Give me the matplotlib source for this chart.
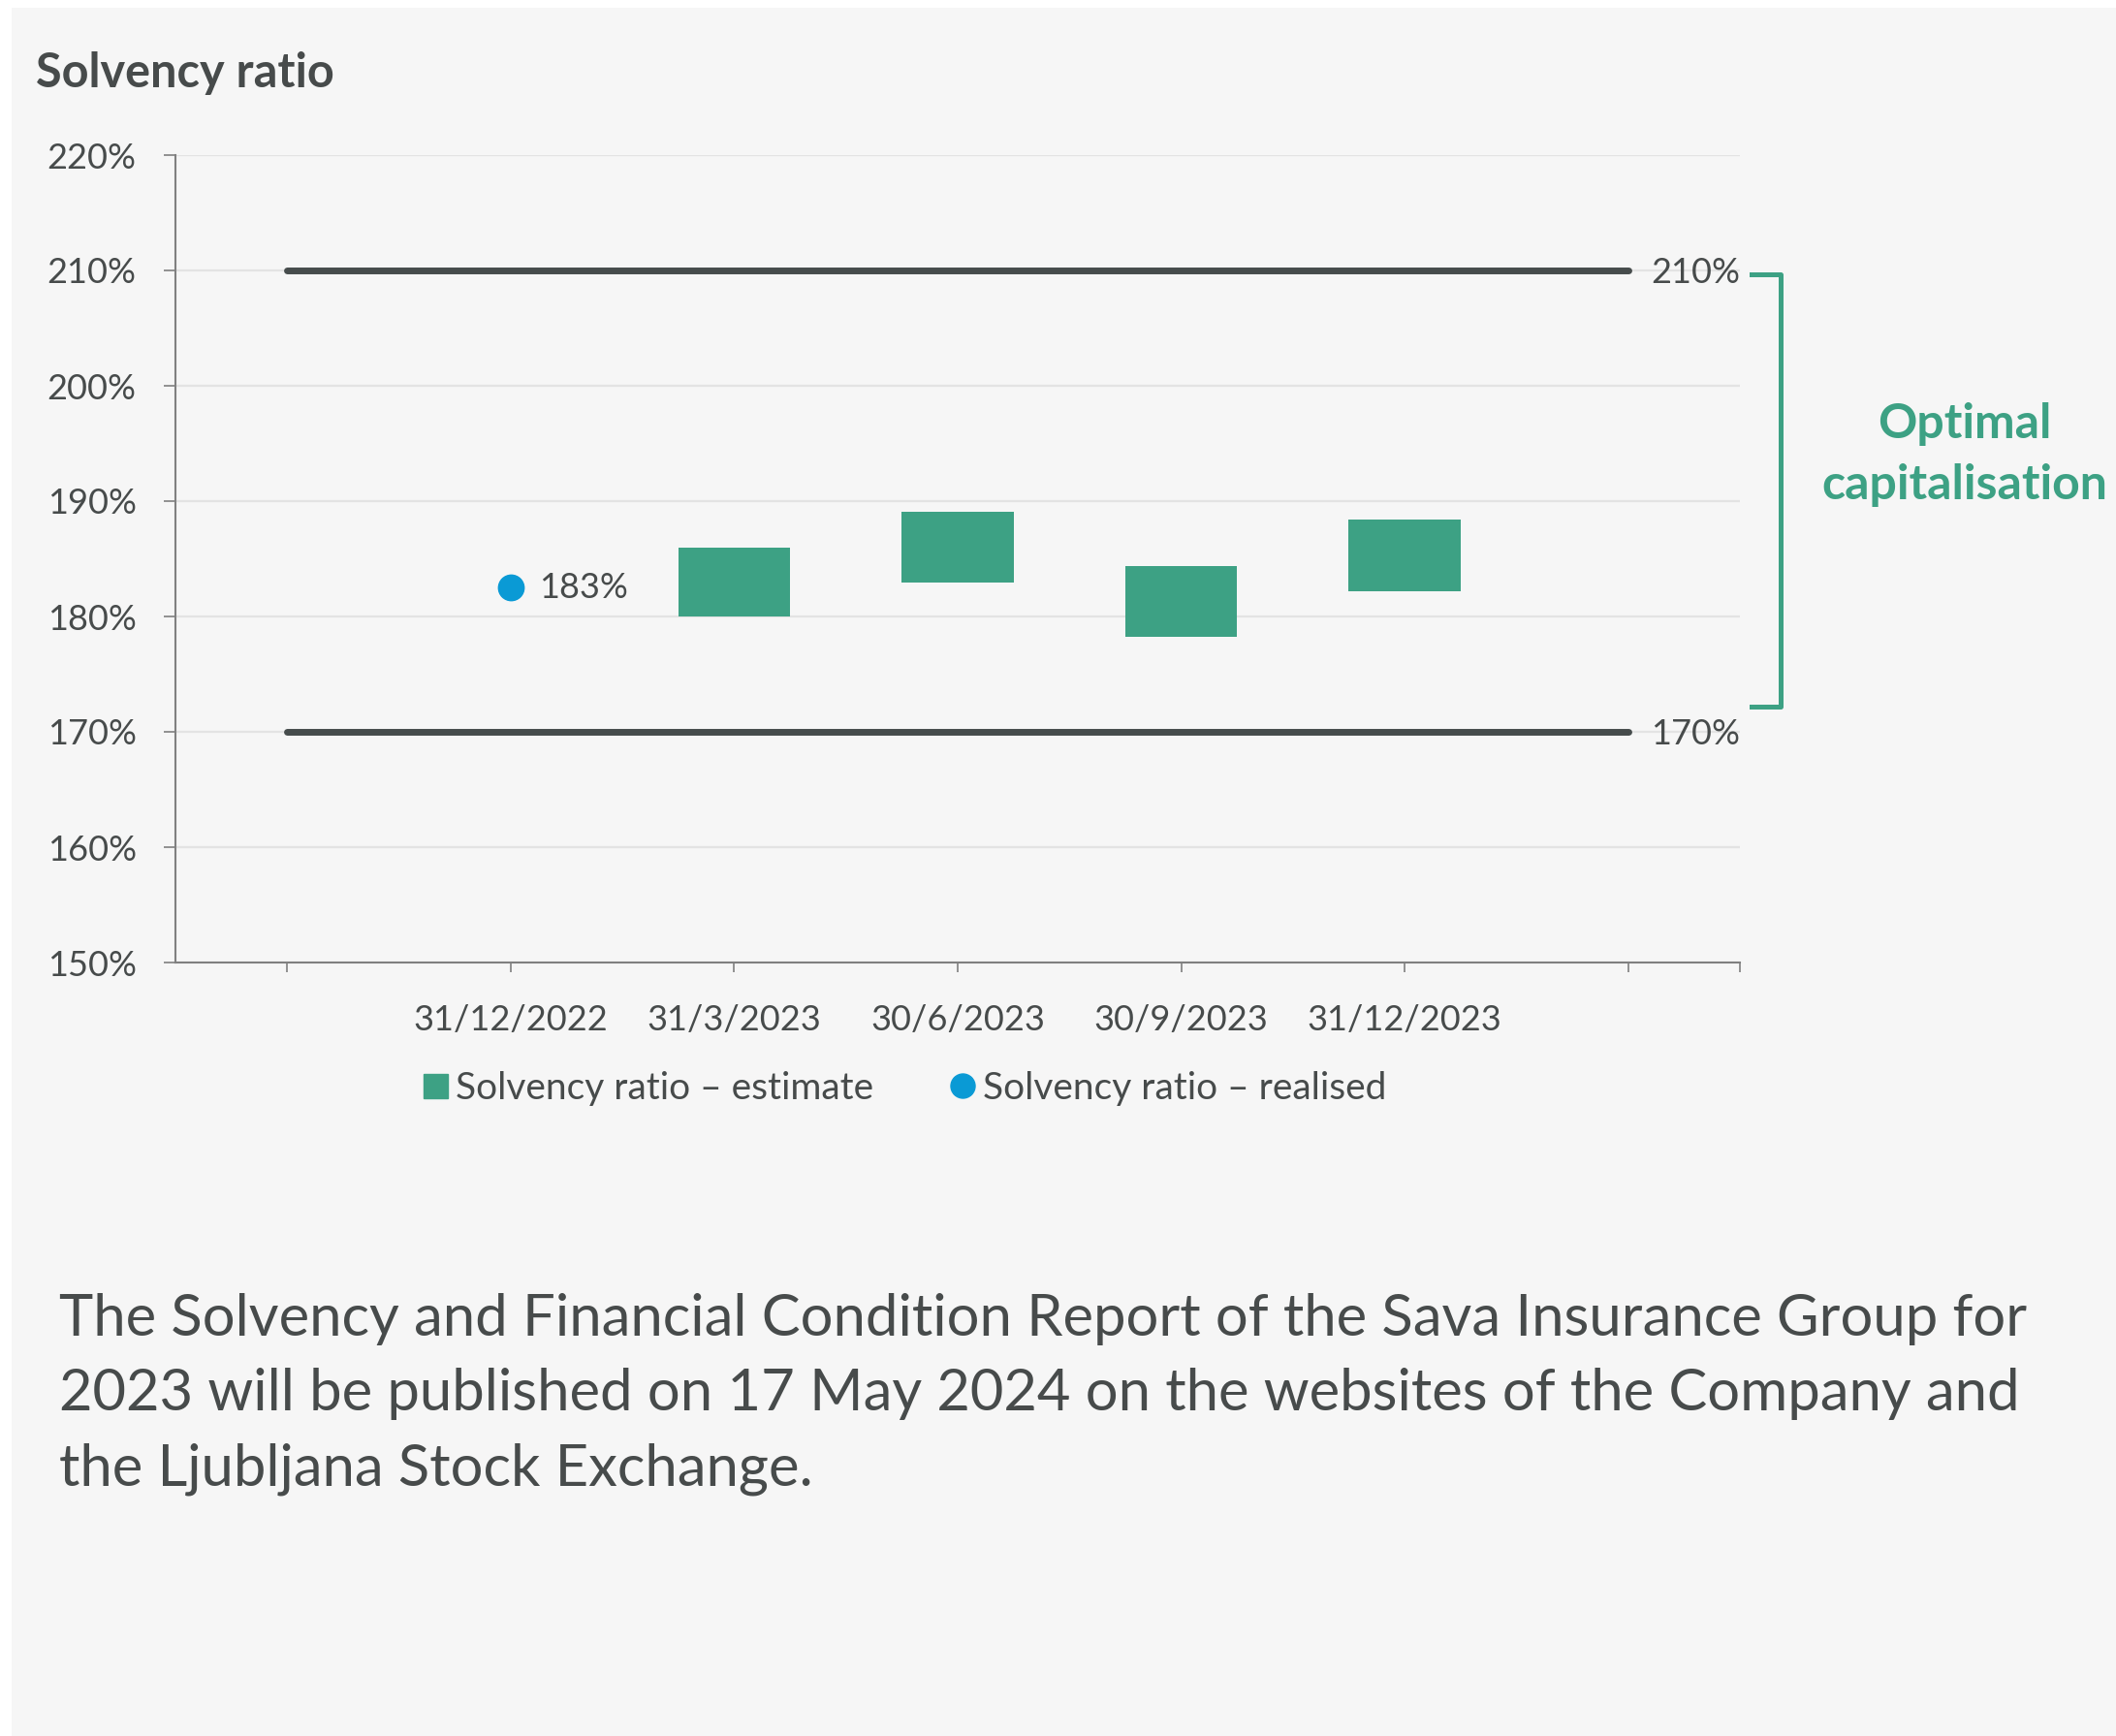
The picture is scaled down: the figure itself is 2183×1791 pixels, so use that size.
import numpy as np
import matplotlib
matplotlib.use("Agg")
from matplotlib import pyplot as plt
from matplotlib.lines import Line2D

plt.rcParams['font.family'] = ['Lato', 'DejaVu Sans']

# chart data
categories = ["", "31/12/2022", "31/3/2023", "30/6/2023", "30/9/2023", "31/12/2023", ""]
estimate_pos = [2, 3, 4, 5]
estimate_low = [180.0, 182.9, 178.2, 182.2]
estimate_high = [186.0, 189.1, 184.4, 188.4]
realised_pos = [1]
realised_val = [182.5]
realised_lbl = ["183%"]
bounds = [170, 210]
bound_lbls = ["170%", "210%"]
yticks = [150, 160, 170, 180, 190, 200, 210, 220]

GREEN = "#3DA184"
BLUE = "#0A9AD5"
DARK = "#464C4C"
TXT = "#474B4B"
GRAY = "#808080"
BG = "#F6F6F6"

W, H = 2183, 1791
fig = plt.figure(figsize=(W / 100, H / 100), dpi=100, facecolor="white")
# light panel behind everything
fig.patches.append(plt.Rectangle((12 / W, 0), 1, 1 - 8 / H, transform=fig.transFigure,
                                 facecolor=BG, edgecolor="none", zorder=-10))

ax = fig.add_axes([181 / W, 1 - 993 / H, (1795 - 181) / W, (993 - 160) / H])
ax.set_facecolor(BG)
ax.set_xlim(-0.5, 6.5)
ax.set_ylim(150, 220)

for s in ["top", "right"]:
    ax.spines[s].set_visible(False)
for s in ["left", "bottom"]:
    ax.spines[s].set_color(GRAY)
    ax.spines[s].set_linewidth(1.5)

ax.set_yticks(yticks)
ax.set_yticklabels([f"{v}%" for v in yticks])
ax.yaxis.grid(True, color="#E3E3E3", linewidth=1.6)
ax.set_axisbelow(True)
ax.tick_params(axis="y", length=9, width=1.2, color=GRAY, labelsize=26, labelcolor=TXT, pad=20)

ax.set_xticks(list(range(len(categories))) + [6.5])
ax.set_xticklabels(categories + [""])
ax.tick_params(axis="x", length=7, width=1.2, color=GRAY, labelsize=26, labelcolor=TXT, pad=24)

# bounds of optimal capitalisation
for b, lbl in zip(bounds, bound_lbls):
    ax.plot([0, 6], [b, b], color=DARK, lw=5, solid_capstyle="round", zorder=3)
    ax.text(6.1, b - 0.2, lbl, fontsize=26, color=TXT, va="center", ha="left")

# estimates
heights = np.array(estimate_high) - np.array(estimate_low)
ax.bar(estimate_pos, heights, bottom=estimate_low, width=0.5, color=GREEN, zorder=4)

# realised
ax.plot(realised_pos, realised_val, "o", ms=19, color=BLUE, zorder=5)
for x, v, l in zip(realised_pos, realised_val, realised_lbl):
    ax.text(x + 0.125, v, l, fontsize=26, color=TXT, va="center", ha="left")

# bracket
bx0, bx1 = 6.55, 6.68
ax.plot([bx0, bx1, bx1, bx0], [209.7, 209.7, 172.2, 172.2], color=GREEN, lw=3.6,
        solid_joinstyle="round", clip_on=False, zorder=3)

fig.text(2027 / W, 1 - 469 / H, "Optimal\ncapitalisation", fontsize=36, fontweight="bold",
         color=GREEN, ha="center", va="center", linespacing=1.5)

fig.text(37 / W, 1 - 76 / H, "Solvency ratio", fontsize=35, fontweight="bold",
         color=TXT, ha="left", va="center")

handles = [Line2D([], [], marker="s", ls="none", ms=18, color=GREEN),
           Line2D([], [], marker="o", ls="none", ms=18, color=BLUE)]
fig.legend(handles, ["Solvency ratio – estimate", "Solvency ratio – realised"],
           loc="center", bbox_to_anchor=(933 / W, 1 - 1123 / H), ncol=2, frameon=False,
           fontsize=28, labelcolor=TXT, handlelength=0.7, handletextpad=0.2,
           columnspacing=2.0)

body = ("The Solvency and Financial Condition Report of the Sava Insurance Group for\n"
        "2023 will be published on 17 May 2024 on the websites of the Company and\n"
        "the Ljubljana Stock Exchange.")
fig.text(61 / W, 1 - 1334 / H, body, fontsize=43, color=TXT, ha="left", va="top",
         linespacing=1.53)

fig.savefig("out.png", dpi=100, facecolor="white")
